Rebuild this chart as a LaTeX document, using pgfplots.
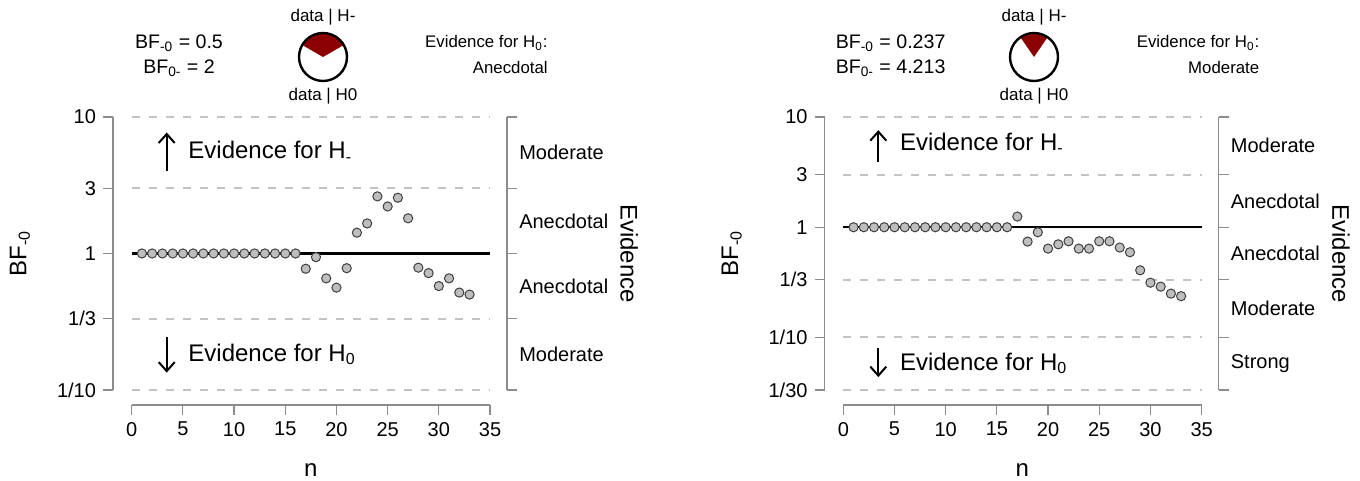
\documentclass[border=0pt]{standalone}
\usepackage{fontspec}
\setmainfont{Liberation Sans}
\usepackage{pgfplots}
\usepackage{pgfplotstable}
\pgfplotsset{compat=1.18}
\usetikzlibrary{arrows.meta}
\definecolor{wedgered}{RGB}{139,0,0}
\definecolor{ptfill}{RGB}{190,190,190}
\definecolor{guide}{RGB}{195,195,195}
\definecolor{axgray}{RGB}{140,140,140}

% sequential Bayes factors, left: BF = 0.5, right: BF = 0.237
\pgfplotstableread{
n bf
1 1
2 1
3 1
4 1
5 1
6 1
7 1
8 1
9 1
10 1
11 1
12 1
13 1
14 1
15 1
16 1
17 0.773
18 0.94
19 0.657
20 0.562
21 0.78
22 1.42
23 1.66
24 2.62
25 2.21
26 2.56
27 1.81
28 0.787
29 0.718
30 0.577
31 0.657
32 0.517
33 0.5
}\bfleft
\pgfplotstableread{
n bf
1 1
2 1
3 1
4 1
5 1
6 1
7 1
8 1
9 1
10 1
11 1
12 1
13 1
14 1
15 1
16 1
17 1.25
18 0.741
19 0.90
20 0.64
21 0.70
22 0.746
23 0.64
24 0.64
25 0.746
26 0.746
27 0.654
28 0.593
29 0.407
30 0.314
31 0.289
32 0.25
33 0.237
}\bfright

\tikzset{
  guideline/.style={guide, line width=1pt, dash pattern=on 4pt off 4.5pt},
  axln/.style={axgray, line width=0.6pt},
  upar/.style={line width=1pt, -{Straight Barb[length=4.5pt,width=8pt,line width=1pt]}},
  evlab/.style={anchor=west, font=\fontsize{10}{12}\selectfont},
}

\begin{document}
\begin{tikzpicture}[x=0.5pt, y=0.5pt]
\useasboundingbox (0,0) rectangle (1360,481);

% ---------------- left panel ----------------
\begin{axis}[at={(56.5pt,38pt)}, anchor=south west,
  scale only axis, width=197pt, height=144pt,
  ymode=log, xmin=-1.827, xmax=36.66, ymax=10, ymin=0.0776,
  axis line style={draw=none},
  xtick pos=bottom, ytick pos=left, tick align=outside,
  major tick length=5pt,
  tick style={axgray, line width=0.6pt},
  xtick={0,5,10,15,20,25,30,35}, xticklabels={0,5,10,15,20,25,30,35},
  ytick={0.1,0.33333,1,3,10}, yticklabels={1/10,1/3,1,3,10},
  tick label style={font=\fontsize{10}{12}\selectfont},
  xlabel={n}, ylabel={BF\textsubscript{-0}},
  label style={font=\fontsize{12}{14}\selectfont},
  xlabel style={at={(axis description cs:0.502,-0.226)}, anchor=center},
  ylabel style={at={(axis description cs:-0.236,0.526)}, anchor=center},
  clip=false]
  \draw[axln] (axis cs:-1.827,0.1) -- (axis cs:-1.827,10);
  \draw[axln] (axis cs:0,0.0776) -- (axis cs:35,0.0776);
  \addplot[guideline] coordinates {(0,10)(35,10)};
  \addplot[guideline] coordinates {(0,3)(35,3)};
  \addplot[guideline] coordinates {(0,0.33333)(35,0.33333)};
  \addplot[guideline] coordinates {(0,0.1)(35,0.1)};
  \addplot[black, line width=1.2pt] coordinates {(0,1)(35,1)};
  \addplot[only marks, mark=*, mark size=2.3pt,
    mark options={fill=ptfill, draw=black!75, line width=0.5pt}] table[x=n, y=bf] {\bfleft};
  % evidence axis
  \draw[axln] (axis cs:36.66,10) -- (axis cs:36.66,0.1);
  \draw[axln] (axis cs:36.66,10) -- ([xshift=5pt]axis cs:36.66,10);
  \draw[axln] (axis cs:36.66,3) -- ([xshift=5pt]axis cs:36.66,3);
  \draw[axln] (axis cs:36.66,1) -- ([xshift=5pt]axis cs:36.66,1);
  \draw[axln] (axis cs:36.66,0.33333) -- ([xshift=5pt]axis cs:36.66,0.33333);
  \draw[axln] (axis cs:36.66,0.1) -- ([xshift=5pt]axis cs:36.66,0.1);
  \node[evlab] at ([xshift=2.6pt]axis cs:36.66,5.477) {Moderate};
  \node[evlab] at ([xshift=2.6pt]axis cs:36.66,1.732) {Anecdotal};
  \node[evlab] at ([xshift=2.6pt]axis cs:36.66,0.577) {Anecdotal};
  \node[evlab] at ([xshift=2.6pt]axis cs:36.66,0.1826) {Moderate};
  \node[rotate=-90, font=\fontsize{12}{14}\selectfont] at (axis cs:48.6,1) {Evidence};
  \draw[upar] (axis cs:3.42,4.0) -- (axis cs:3.42,7.7);
  \draw[upar] (axis cs:3.42,0.246) -- (axis cs:3.42,0.134);
  \node[anchor=west, font=\fontsize{12}{14}\selectfont] at (axis cs:4.85,5.55) {Evidence for H\textsubscript{-}};
  \node[anchor=west, font=\fontsize{12}{14}\selectfont] at (axis cs:4.85,0.182) {Evidence for H\textsubscript{0}};
\end{axis}

% ---------------- right panel ----------------
\begin{axis}[at={(412.3pt,38pt)}, anchor=south west,
  scale only axis, width=197pt, height=144pt,
  ymode=log, xmin=-1.827, xmax=36.66, ymax=10, ymin=0.0244,
  axis line style={draw=none},
  xtick pos=bottom, ytick pos=left, tick align=outside,
  major tick length=5pt,
  tick style={axgray, line width=0.6pt},
  xtick={0,5,10,15,20,25,30,35}, xticklabels={0,5,10,15,20,25,30,35},
  ytick={0.033333,0.1,0.33333,1,3,10}, yticklabels={1/30,1/10,1/3,1,3,10},
  tick label style={font=\fontsize{10}{12}\selectfont},
  xlabel={n}, ylabel={BF\textsubscript{-0}},
  label style={font=\fontsize{12}{14}\selectfont},
  xlabel style={at={(axis description cs:0.502,-0.226)}, anchor=center},
  ylabel style={at={(axis description cs:-0.236,0.526)}, anchor=center},
  clip=false]
  \draw[axln] (axis cs:-1.827,0.033333) -- (axis cs:-1.827,10);
  \draw[axln] (axis cs:0,0.0244) -- (axis cs:35,0.0244);
  \addplot[guideline] coordinates {(0,10)(35,10)};
  \addplot[guideline] coordinates {(0,3)(35,3)};
  \addplot[guideline] coordinates {(0,0.33333)(35,0.33333)};
  \addplot[guideline] coordinates {(0,0.1)(35,0.1)};
  \addplot[guideline] coordinates {(0,0.033333)(35,0.033333)};
  \addplot[black, line width=1.2pt] coordinates {(0,1)(35,1)};
  \addplot[only marks, mark=*, mark size=2.3pt,
    mark options={fill=ptfill, draw=black!75, line width=0.5pt}] table[x=n, y=bf] {\bfright};
  \draw[axln] (axis cs:36.66,10) -- (axis cs:36.66,0.033333);
  \draw[axln] (axis cs:36.66,10) -- ([xshift=5pt]axis cs:36.66,10);
  \draw[axln] (axis cs:36.66,3) -- ([xshift=5pt]axis cs:36.66,3);
  \draw[axln] (axis cs:36.66,1) -- ([xshift=5pt]axis cs:36.66,1);
  \draw[axln] (axis cs:36.66,0.33333) -- ([xshift=5pt]axis cs:36.66,0.33333);
  \draw[axln] (axis cs:36.66,0.1) -- ([xshift=5pt]axis cs:36.66,0.1);
  \draw[axln] (axis cs:36.66,0.033333) -- ([xshift=5pt]axis cs:36.66,0.033333);
  \node[evlab] at ([xshift=2.6pt]axis cs:36.66,5.477) {Moderate};
  \node[evlab] at ([xshift=2.6pt]axis cs:36.66,1.732) {Anecdotal};
  \node[evlab] at ([xshift=2.6pt]axis cs:36.66,0.577) {Anecdotal};
  \node[evlab] at ([xshift=2.6pt]axis cs:36.66,0.1826) {Moderate};
  \node[evlab] at ([xshift=2.6pt]axis cs:36.66,0.0577) {Strong};
  \node[rotate=-90, font=\fontsize{12}{14}\selectfont] at (axis cs:48.6,0.575) {Evidence};
  \draw[upar] (axis cs:3.42,3.9) -- (axis cs:3.42,7.6);
  \draw[upar] (axis cs:3.42,0.0797) -- (axis cs:3.42,0.0437);
  \node[anchor=west, font=\fontsize{12}{14}\selectfont] at (axis cs:4.85,5.78) {Evidence for H\textsubscript{-}};
  \node[anchor=west, font=\fontsize{12}{14}\selectfont] at (axis cs:4.85,0.058) {Evidence for H\textsubscript{0}};
\end{axis}

% ---------------- headers ----------------
\begin{scope}[every node/.style={font=\fontsize{9.8}{11}\selectfont}]
  \node at (179,438) {BF\textsubscript{-0} = 0.5};
  \node at (179,413) {BF\textsubscript{0-} = 2};
  \node[font=\fontsize{8.5}{10}\selectfont] at (323,464) {data | H-};
  \node[font=\fontsize{8.5}{10}\selectfont] at (323,385) {data | H0};
  \node[anchor=east, inner xsep=0pt, font=\fontsize{8.4}{10}\selectfont] at (548,438) {Evidence for H\textsubscript{0}:};
  \node[anchor=east, inner xsep=0pt, font=\fontsize{8.4}{10}\selectfont] at (548,413) {Anecdotal};

  \node at (890.6,438) {BF\textsubscript{-0} = 0.237};
  \node at (890.6,413) {BF\textsubscript{0-} = 4.213};
  \node[font=\fontsize{8.5}{10}\selectfont] at (1034,464) {data | H-};
  \node[font=\fontsize{8.5}{10}\selectfont] at (1034,385) {data | H0};
  \node[anchor=east, inner xsep=0pt, font=\fontsize{8.4}{10}\selectfont] at (1259.6,438) {Evidence for H\textsubscript{0}:};
  \node[anchor=east, inner xsep=0pt, font=\fontsize{8.4}{10}\selectfont] at (1259.6,413) {Moderate};
\end{scope}
\fill[wedgered] (323,424) -- ++(30:12pt) arc[start angle=30, end angle=150, radius=12pt] -- cycle;
\draw[line width=1.2pt] (323,424) circle[radius=12pt];
\fill[wedgered] (1034,424) -- ++(55.5:12pt) arc[start angle=55.5, end angle=124.5, radius=12pt] -- cycle;
\draw[line width=1.2pt] (1034,424) circle[radius=12pt];
\end{tikzpicture}
\end{document}
